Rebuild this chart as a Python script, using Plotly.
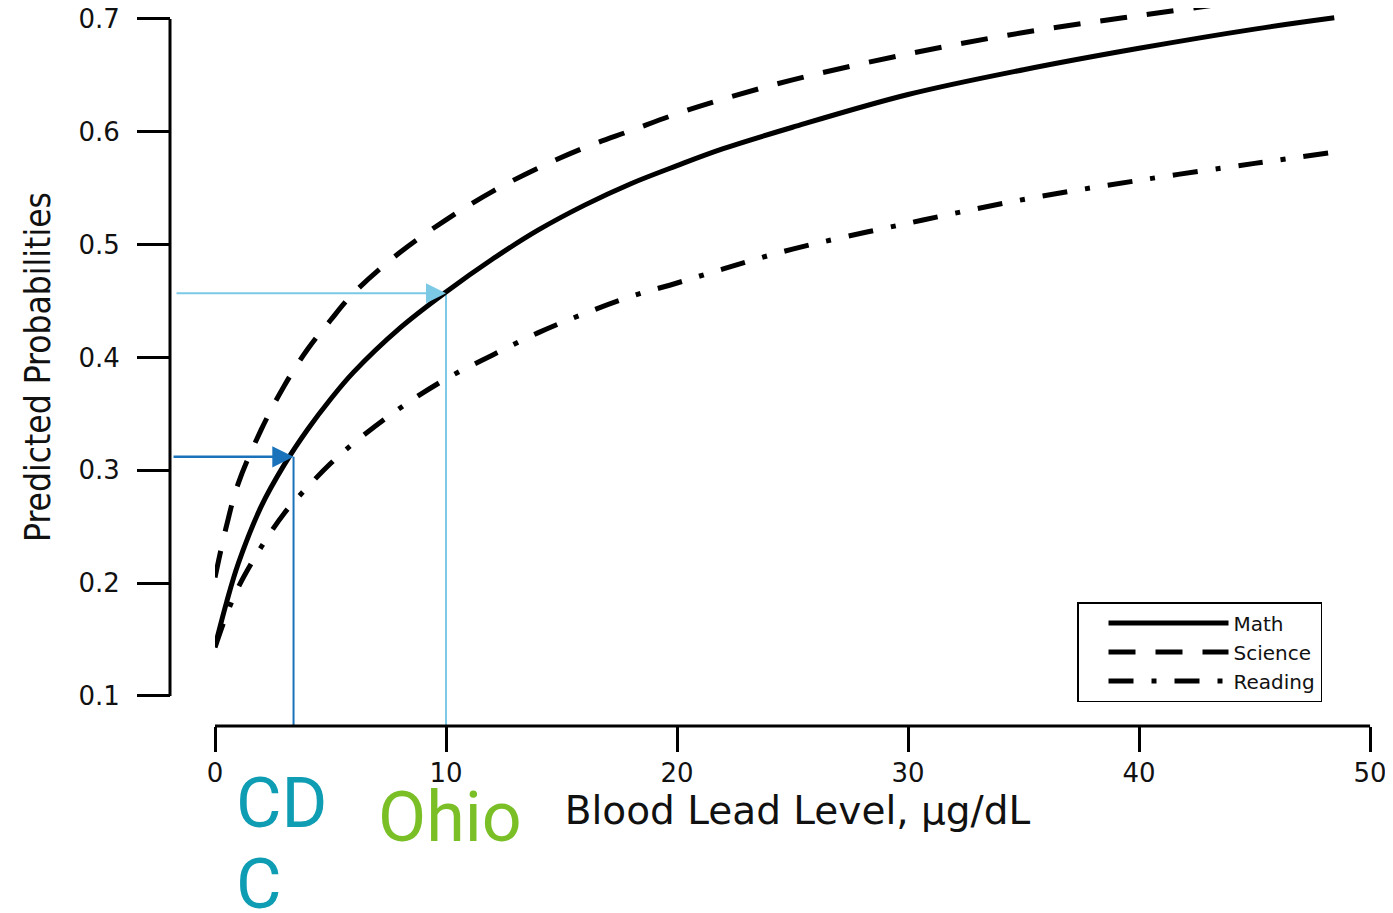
import plotly.graph_objects as go

# ---- data ----
blood_lead = [0, 0.5, 1, 2, 3, 4, 5, 6, 8, 10, 12, 14, 16, 18, 20, 22, 25, 30, 35, 40, 45, 48.45]
math_prob = [0.144, 0.183, 0.217, 0.268, 0.305, 0.336, 0.363, 0.387, 0.426, 0.458, 0.487, 0.513,
             0.535, 0.554, 0.570, 0.585, 0.604, 0.633, 0.655, 0.674, 0.691, 0.701]
science_prob = [0.205, 0.251, 0.288, 0.336, 0.375, 0.407, 0.433, 0.457, 0.493, 0.522, 0.547, 0.568,
                0.586, 0.601, 0.616, 0.629, 0.646, 0.669, 0.688, 0.703, 0.717, 0.725]
reading_prob = [0.143, 0.172, 0.196, 0.232, 0.262, 0.285, 0.306, 0.324, 0.355, 0.381, 0.402, 0.422,
                0.439, 0.454, 0.466, 0.4785, 0.496, 0.519, 0.540, 0.557, 0.572, 0.582]

x_ticks = [0, 10, 20, 30, 40, 50]
y_ticks = [0.1, 0.2, 0.3, 0.4, 0.5, 0.6, 0.7]
y_tick_labels = ["0.1", "0.2", "0.3", "0.4", "0.5", "0.6", "0.7"]

cdc_level, cdc_prob = 3.4, 0.312
ohio_level, ohio_prob = 10, 0.457

# ---- styling ----
X_RANGE = [0, 50.43]
Y_RANGE = [0.0734, 0.7097]
DARK_BLUE = "#1a73ba"
LIGHT_BLUE = "#7cc9e6"
TEAL = "#0f9db3"
GREEN = "#7abf26"
TXT = "#111111"
AX_FONT = "DejaVu Sans, Verdana, sans-serif"
NARROW = "Liberation Sans Narrow, DejaVu Sans Condensed, Roboto Condensed, Roboto, sans-serif"

fig = go.Figure()

# reference lines (CDC / Ohio)
fig.add_trace(go.Scatter(x=[cdc_level, cdc_level], y=[cdc_prob, Y_RANGE[0]], mode="lines",
                         line=dict(color=DARK_BLUE, width=2), showlegend=False, hoverinfo="skip"))
fig.add_trace(go.Scatter(x=[ohio_level, ohio_level], y=[ohio_prob, Y_RANGE[0]], mode="lines",
                         line=dict(color=LIGHT_BLUE, width=2), showlegend=False, hoverinfo="skip"))

fig.add_trace(go.Scatter(x=blood_lead, y=math_prob, name="Math", mode="lines",
                         line=dict(color="black", width=5, shape="spline", smoothing=1)))
fig.add_trace(go.Scatter(x=blood_lead, y=science_prob, name="Science", mode="lines",
                         line=dict(color="black", width=5, dash="27px,20px", shape="spline", smoothing=1)))
fig.add_trace(go.Scatter(x=blood_lead, y=reading_prob, name="Reading", mode="lines",
                         line=dict(color="black", width=5, dash="25px,18px,5px,18px",
                                   shape="spline", smoothing=1)))

# detached axis lines
fig.add_shape(type="line", xref="paper", yref="y", x0=0, x1=0, y0=y_ticks[0], y1=y_ticks[-1],
              line=dict(color="black", width=3))
fig.add_shape(type="line", xref="x", yref="paper", x0=x_ticks[0], x1=x_ticks[-1], y0=0, y1=0,
              line=dict(color="black", width=3))

# arrows
fig.add_annotation(x=cdc_level, y=cdc_prob, xref="x", yref="y", ax=-1.86, ay=cdc_prob,
                   axref="x", ayref="y", text="", showarrow=True, arrowhead=2, arrowsize=1.7,
                   arrowwidth=2.5, arrowcolor=DARK_BLUE)
fig.add_annotation(x=ohio_level, y=ohio_prob, xref="x", yref="y", ax=-1.73, ay=ohio_prob,
                   axref="x", ayref="y", text="", showarrow=True, arrowhead=2, arrowsize=2.0,
                   arrowwidth=2, arrowcolor=LIGHT_BLUE)

# labels below the axis
fig.add_annotation(x=0.053, y=-0.1072, xref="paper", yref="paper", text="CD", showarrow=False,
                   xanchor="left", yanchor="middle", font=dict(family="Roboto", size=70, color=TEAL))
fig.add_annotation(x=0.053, y=-0.2200, xref="paper", yref="paper", text="C", showarrow=False,
                   xanchor="left", yanchor="middle", font=dict(family="Roboto", size=70, color=TEAL))
fig.add_annotation(x=0.1703, y=-0.1267, xref="paper", yref="paper", text="Ohio", showarrow=False,
                   xanchor="left", yanchor="middle", font=dict(family="Roboto", size=70, color=GREEN))

fig.update_layout(
    width=1393, height=913,
    margin=dict(l=162, r=21, t=0, b=195, pad=0),
    paper_bgcolor="white", plot_bgcolor="white",
    xaxis=dict(domain=[45 / 1210, 1], range=X_RANGE, tickvals=x_ticks, ticks="outside",
               ticklen=25, tickwidth=2.5, tickcolor="black", showline=False, showgrid=False,
               zeroline=False, ticklabelstandoff=-1, ticklabeloverflow="allow", automargin=False,
               tickfont=dict(family=AX_FONT, size=26, color=TXT),
               title=dict(text="Blood Lead Level, μg/dL", standoff=8,
                          font=dict(family=AX_FONT, size=39, color=TXT))),
    yaxis=dict(anchor="free", position=0, domain=[0, 1], range=Y_RANGE, tickvals=y_ticks,
               ticktext=y_tick_labels, ticks="outside", ticklen=33, tickwidth=2.5,
               tickcolor="black", showline=False, showgrid=False, zeroline=False,
               ticklabelstandoff=12, ticklabeloverflow="allow", automargin=False,
               tickfont=dict(family=AX_FONT, size=26, color=TXT),
               title=dict(text="Predicted Probabilities", standoff=16,
                          font=dict(family=NARROW, size=35, color=TXT))),
    legend=dict(x=(1077 - 170) / 1210, y=0.1727, xanchor="left", yanchor="top", bgcolor="white",
                bordercolor="black", borderwidth=1.5, itemwidth=120, indentation=25,
                tracegroupgap=0, font=dict(family=AX_FONT, size=20, color=TXT)),
    showlegend=True,
)

fig.write_html("out.html")
